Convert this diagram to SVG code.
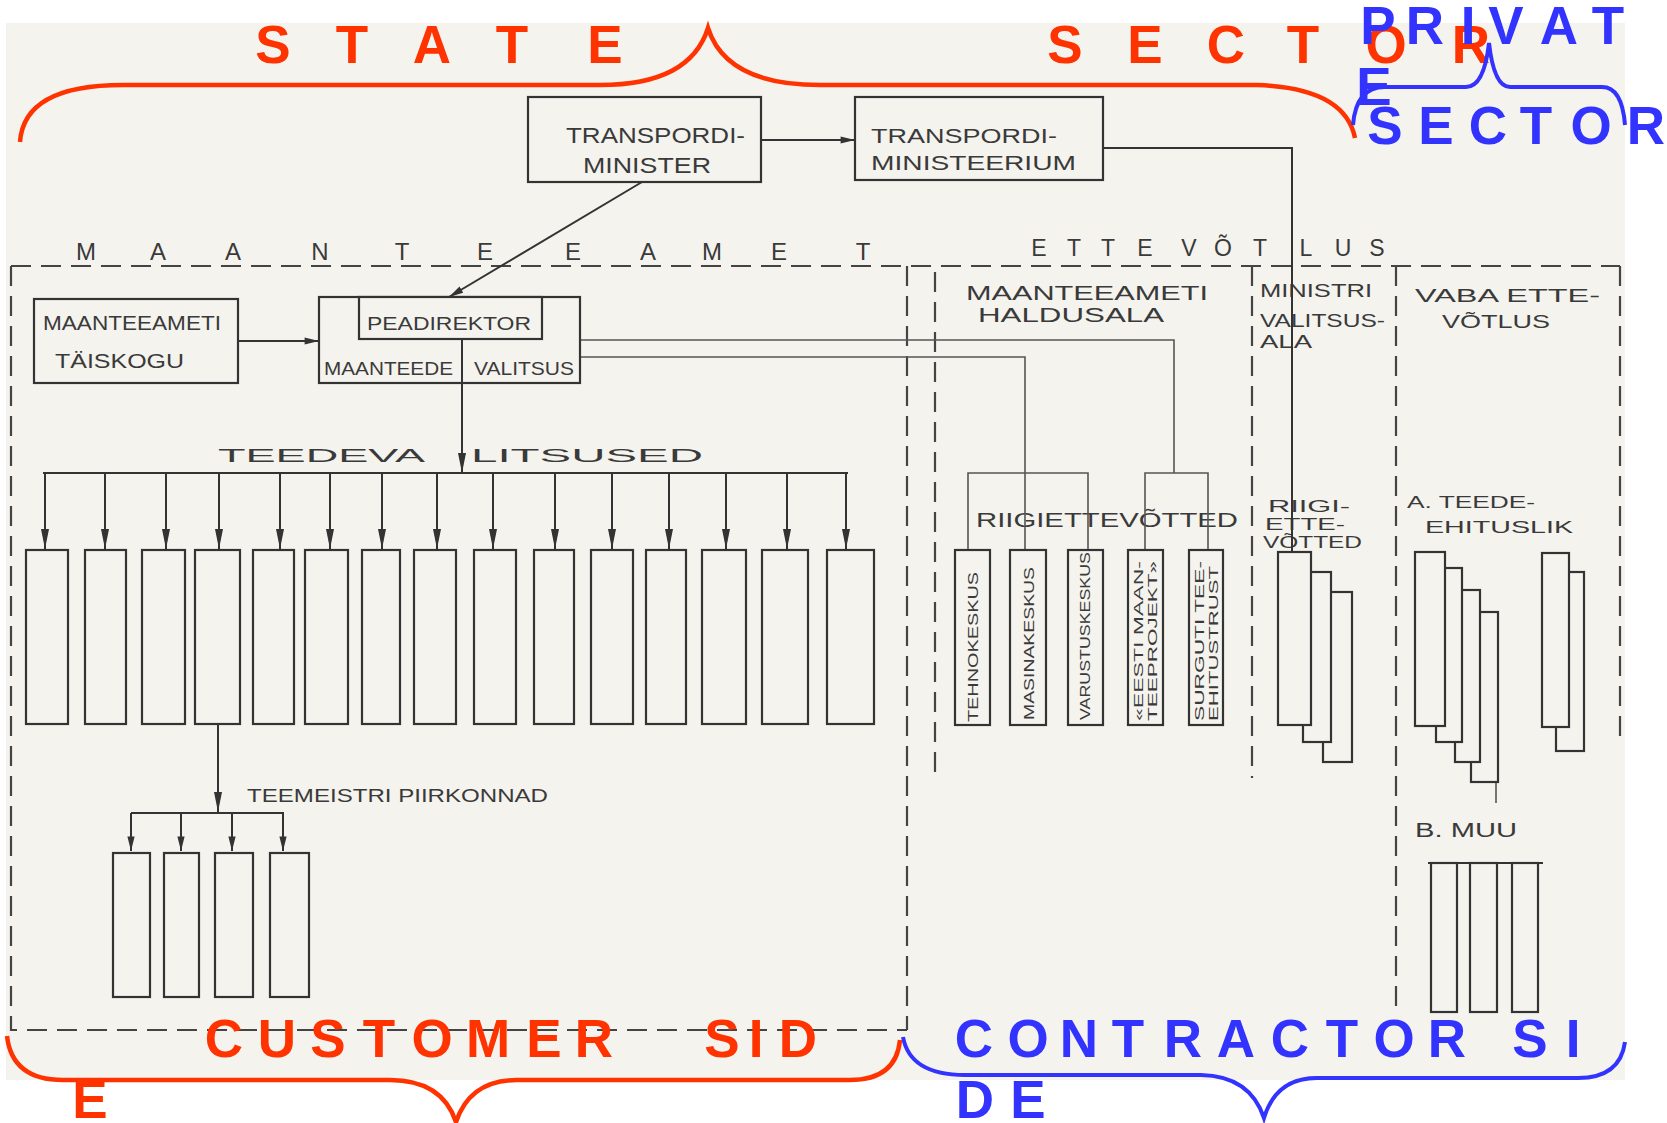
<svg xmlns="http://www.w3.org/2000/svg" width="1667" height="1123" viewBox="0 0 1667 1123">
<defs>
<style>
.paper{fill:#f5f3ee}
.box{fill:#f5f3ee;stroke:#333;stroke-width:2.2}
.ln{fill:none;stroke:#333;stroke-width:2}
.thin{fill:none;stroke:#555;stroke-width:1.6}
.dash{fill:none;stroke:#444;stroke-width:2.2;stroke-dasharray:20 10}
.hw{font-family:"Liberation Sans",Arial,sans-serif;fill:#3a3a3a}
.big{font-family:"Liberation Sans",Arial,sans-serif;font-weight:bold;font-size:53px;text-anchor:middle}
.red{fill:#ff3300}
.blue{fill:#3333ff}
.rb{fill:none;stroke:#ff3300;stroke-width:4.5}
.bb{fill:none;stroke:#3333ff;stroke-width:4}
</style>
<marker id="ah" viewBox="0 0 20 10" refX="20" refY="5" markerWidth="20" markerHeight="10" markerUnits="userSpaceOnUse" orient="auto">
<path d="M0,1 L20,5 L0,9 z" fill="#333"/>
</marker>
<marker id="ahs" viewBox="0 0 16 10" refX="16" refY="5" markerWidth="15" markerHeight="9" markerUnits="userSpaceOnUse" orient="auto">
<path d="M0,1 L16,5 L0,9 z" fill="#333"/>
</marker>
</defs>

<rect class="paper" x="6" y="23" width="1619" height="1057"/>

<!-- region boundaries -->
<g id="regions">
<path class="dash" d="M11 266 H1620"/>
<path class="dash" d="M11 266 V1030 H907"/>
<path class="dash" d="M907 266 V1030"/>
<path class="dash" d="M935 272 V772"/>
<path class="dash" d="M1252 266 V778"/>
<path class="dash" d="M1396 266 V1012"/>
<path class="dash" d="M1620 266 V745"/>
<text class="hw" font-size="24" y="260" text-anchor="middle" x="86 158 233 320 402 485 573 648 712 779 863">MAANTEEAMET</text>
<text class="hw" font-size="23" y="256" text-anchor="middle" x="1039 1074 1108 1145 1189 1223 1260 1306 1343 1377">ETTEVÕTLUS</text>
<text class="hw" font-size="20" x="966" y="300" textLength="242" lengthAdjust="spacingAndGlyphs">MAANTEEAMETI</text>
<text class="hw" font-size="20" x="978" y="322" textLength="186" lengthAdjust="spacingAndGlyphs">HALDUSALA</text>
<text class="hw" font-size="18" x="1260" y="297" textLength="112" lengthAdjust="spacingAndGlyphs">MINISTRI</text>
<text class="hw" font-size="18" x="1260" y="327" textLength="125" lengthAdjust="spacingAndGlyphs">VALITSUS-</text>
<text class="hw" font-size="18" x="1260" y="348" textLength="52" lengthAdjust="spacingAndGlyphs">ALA</text>
<text class="hw" font-size="19" x="1415" y="302" textLength="185" lengthAdjust="spacingAndGlyphs">VABA ETTE-</text>
<text class="hw" font-size="19" x="1442" y="328" textLength="108" lengthAdjust="spacingAndGlyphs">VÕTLUS</text>
<text class="hw" font-size="20" x="976" y="527" textLength="262" lengthAdjust="spacingAndGlyphs">RIIGIETTEVÕTTED</text>
<text class="hw" font-size="16" x="1268" y="512" textLength="82" lengthAdjust="spacingAndGlyphs">RIIGI-</text>
<text class="hw" font-size="16" x="1265" y="530" textLength="80" lengthAdjust="spacingAndGlyphs">ETTE-</text>
<text class="hw" font-size="16" x="1263" y="548" textLength="99" lengthAdjust="spacingAndGlyphs">VÕTTED</text>
<text class="hw" font-size="16" x="1407" y="508" textLength="128" lengthAdjust="spacingAndGlyphs">A. TEEDE-</text>
<text class="hw" font-size="17" x="1425" y="533" textLength="148" lengthAdjust="spacingAndGlyphs">EHITUSLIK</text>
<text class="hw" font-size="20" x="1415" y="837" textLength="102" lengthAdjust="spacingAndGlyphs">B. MUU</text>
<text class="hw" font-size="19" x="218" y="462" textLength="207" lengthAdjust="spacingAndGlyphs">TEEDEVA</text>
<text class="hw" font-size="19" x="471" y="462" textLength="232" lengthAdjust="spacingAndGlyphs">LITSUSED</text>
<text class="hw" font-size="19" x="247" y="802" textLength="301" lengthAdjust="spacingAndGlyphs">TEEMEISTRI PIIRKONNAD</text>
</g>

<!-- connectors -->
<g id="connectors">
<path class="ln" d="M761 140 H855" marker-end="url(#ahs)"/>
<path class="ln" d="M642 182 L449 297" marker-end="url(#ahs)"/>
<path class="ln" d="M238 341 H319" marker-end="url(#ahs)"/>
<path class="ln" d="M1103 148 H1292 V552"/>
<path class="thin" d="M580 340 H1174 V473"/>
<path class="thin" d="M580 357 H1025 V550"/>
<path class="thin" d="M968 550 V473 H1088 V550"/>
<path class="thin" d="M1145 550 V473 H1208 V550"/>
<path class="ln" d="M462 339 V473" marker-end="url(#ah)"/>
<path class="ln" d="M43 473 H848"/>
<path class="ln" d="M45 473 V549" marker-end="url(#ah)"/>
<path class="ln" d="M105 473 V549" marker-end="url(#ah)"/>
<path class="ln" d="M166 473 V549" marker-end="url(#ah)"/>
<path class="ln" d="M219 473 V549" marker-end="url(#ah)"/>
<path class="ln" d="M280 473 V549" marker-end="url(#ah)"/>
<path class="ln" d="M330 473 V549" marker-end="url(#ah)"/>
<path class="ln" d="M382 473 V549" marker-end="url(#ah)"/>
<path class="ln" d="M437 473 V549" marker-end="url(#ah)"/>
<path class="ln" d="M493 473 V549" marker-end="url(#ah)"/>
<path class="ln" d="M555 473 V549" marker-end="url(#ah)"/>
<path class="ln" d="M612 473 V549" marker-end="url(#ah)"/>
<path class="ln" d="M669 473 V549" marker-end="url(#ah)"/>
<path class="ln" d="M726 473 V549" marker-end="url(#ah)"/>
<path class="ln" d="M787 473 V549" marker-end="url(#ah)"/>
<path class="ln" d="M846 473 V549" marker-end="url(#ah)"/>
<path class="ln" d="M218 724 V812" marker-end="url(#ah)"/>
<path class="ln" d="M131 813 H284"/>
<path class="ln" d="M131 813 V851" marker-end="url(#ahs)"/>
<path class="ln" d="M181 813 V851" marker-end="url(#ahs)"/>
<path class="ln" d="M232 813 V851" marker-end="url(#ahs)"/>
<path class="ln" d="M283 813 V851" marker-end="url(#ahs)"/>
<path class="ln" d="M1428 863 H1543"/>
</g>

<!-- top nodes -->
<g id="transpordiminister">
<rect class="box" x="528" y="97" width="233" height="85"/>
<text class="hw" font-size="22" x="566" y="143" textLength="179" lengthAdjust="spacingAndGlyphs">TRANSPORDI-</text>
<text class="hw" font-size="22" x="583" y="173" textLength="128" lengthAdjust="spacingAndGlyphs">MINISTER</text>
</g>
<g id="transpordiministeerium">
<rect class="box" x="855" y="97" width="248" height="83"/>
<text class="hw" font-size="21" x="871" y="143" textLength="186" lengthAdjust="spacingAndGlyphs">TRANSPORDI-</text>
<text class="hw" font-size="21" x="871" y="170" textLength="205" lengthAdjust="spacingAndGlyphs">MINISTEERIUM</text>
</g>
<g id="taiskogu">
<rect class="box" x="34" y="299" width="204" height="84"/>
<text class="hw" font-size="21" x="43" y="330" textLength="178" lengthAdjust="spacingAndGlyphs">MAANTEEAMETI</text>
<text class="hw" font-size="21" x="55" y="368" textLength="129" lengthAdjust="spacingAndGlyphs">TÄISKOGU</text>
</g>
<g id="maanteede-valitsus">
<rect class="box" x="319" y="297" width="261" height="86"/>
<rect class="box" x="359" y="297" width="183" height="42"/>
<path class="ln" d="M462 339 V383"/>
<text class="hw" font-size="19" x="367" y="330" textLength="164" lengthAdjust="spacingAndGlyphs">PEADIREKTOR</text>
<text class="hw" font-size="19" x="324" y="375" textLength="129" lengthAdjust="spacingAndGlyphs">MAANTEEDE</text>
<text class="hw" font-size="19" x="474" y="375" textLength="100" lengthAdjust="spacingAndGlyphs">VALITSUS</text>
</g>

<!-- teedevalitsused -->
<g id="teedevalitsused">
<rect class="box" x="26" y="550" width="42" height="174"/>
<rect class="box" x="85" y="550" width="41" height="174"/>
<rect class="box" x="142" y="550" width="43" height="174"/>
<rect class="box" x="195" y="550" width="45" height="174"/>
<rect class="box" x="253" y="550" width="41" height="174"/>
<rect class="box" x="305" y="550" width="43" height="174"/>
<rect class="box" x="362" y="550" width="38" height="174"/>
<rect class="box" x="414" y="550" width="42" height="174"/>
<rect class="box" x="474" y="550" width="42" height="174"/>
<rect class="box" x="534" y="550" width="40" height="174"/>
<rect class="box" x="591" y="550" width="42" height="174"/>
<rect class="box" x="646" y="550" width="40" height="174"/>
<rect class="box" x="702" y="550" width="44" height="174"/>
<rect class="box" x="762" y="550" width="46" height="174"/>
<rect class="box" x="827" y="550" width="47" height="174"/>
</g>
<g id="teemeistri-piirkonnad">
<rect class="box" x="113" y="853" width="37" height="144"/>
<rect class="box" x="164" y="853" width="35" height="144"/>
<rect class="box" x="215" y="853" width="38" height="144"/>
<rect class="box" x="270" y="853" width="39" height="144"/>
</g>

<!-- riigiettevotted of maanteeamet -->
<g id="tehnokeskus">
<rect class="box" x="955" y="550" width="35" height="175"/>
<text class="hw" font-size="15" transform="translate(978,722) rotate(-90)" textLength="150" lengthAdjust="spacingAndGlyphs">TEHNOKESKUS</text>
</g>
<g id="masinakeskus">
<rect class="box" x="1010" y="550" width="36" height="175"/>
<text class="hw" font-size="15" transform="translate(1034,720) rotate(-90)" textLength="153" lengthAdjust="spacingAndGlyphs">MASINAKESKUS</text>
</g>
<g id="varustuskeskus">
<rect class="box" x="1068" y="550" width="35" height="175"/>
<text class="hw" font-size="15" transform="translate(1090,720) rotate(-90)" textLength="168" lengthAdjust="spacingAndGlyphs">VARUSTUSKESKUS</text>
</g>
<g id="maanteeprojekt">
<rect class="box" x="1128" y="550" width="35" height="175"/>
<text class="hw" font-size="13" transform="translate(1143,721) rotate(-90)" textLength="160" lengthAdjust="spacingAndGlyphs">«EESTI MAAN-</text>
<text class="hw" font-size="13" transform="translate(1157,721) rotate(-90)" textLength="160" lengthAdjust="spacingAndGlyphs">TEEPROJEKT»</text>
</g>
<g id="teeehitustrust">
<rect class="box" x="1189" y="550" width="34" height="175"/>
<text class="hw" font-size="13" transform="translate(1204,721) rotate(-90)" textLength="160" lengthAdjust="spacingAndGlyphs">SURGUTI TEE-</text>
<text class="hw" font-size="13" transform="translate(1218,721) rotate(-90)" textLength="155" lengthAdjust="spacingAndGlyphs">EHITUSTRUST</text>
</g>

<!-- ministri valitsusala stacked -->
<g id="ministri-ettevotted">
<rect class="box" x="1323" y="592" width="29" height="170"/>
<rect class="box" x="1303" y="572" width="28" height="170"/>
<rect class="box" x="1278" y="552" width="33" height="173"/>
</g>

<!-- vaba ettevotlus -->
<g id="teedeehituslik-1">
<path class="thin" d="M1496 782 V803"/>
<rect class="box" x="1471" y="612" width="27" height="170"/>
<rect class="box" x="1455" y="590" width="25" height="172"/>
<rect class="box" x="1436" y="568" width="26" height="174"/>
<rect class="box" x="1415" y="552" width="30" height="174"/>
</g>
<g id="teedeehituslik-2">
<rect class="box" x="1556" y="572" width="28" height="179"/>
<rect class="box" x="1542" y="553" width="27" height="174"/>
</g>
<g id="muu">
<rect class="box" x="1431" y="863" width="26" height="149"/>
<rect class="box" x="1470" y="863" width="27" height="149"/>
<rect class="box" x="1512" y="863" width="26" height="149"/>
</g>

<!-- coloured overlay braces and titles -->
<g id="state-sector">
<path class="rb" d="M20 142 Q24 85 123 85 L600 85 Q690 85 708 28 Q726 85 820 85 L1257 85 Q1345 88 1355 138"/>
<text class="big red" y="63" x="273 352 432 512 605">STATE</text>
<text class="big red" y="63" x="1065 1145 1226 1303 1386 1471">SECTOR</text>
</g>
<g id="private-sector">
<path class="bb" d="M1353 125 Q1356 87 1385 87 L1466 87 Q1484 87 1489 43 Q1494 87 1510 87 L1602 87 Q1622 87 1625 125"/>
<text class="big blue" y="44" x="1378 1425 1468 1506 1559 1608">PRIVAT</text>
<text class="big blue" y="105" x="1374">E</text>
<text class="big blue" y="144" x="1385 1436 1488 1536 1591 1646">SECTOR</text>
</g>
<g id="customer-side">
<path class="rb" d="M7 1036 Q12 1080 63 1080 L390 1080 Q442 1080 456 1122 Q470 1080 517 1080 L850 1080 Q896 1080 900 1040"/>
<text class="big red" y="1057" x="224 277 328 379 432 488 544 594 722 756 798">CUSTOMERSID</text>
<text class="big red" y="1118" x="90">E</text>
</g>
<g id="contractor-side">
<path class="bb" d="M903 1037 Q910 1075 965 1075 L1201 1075 Q1250 1076 1264 1118 Q1276 1078 1317 1078 L1578 1078 Q1620 1078 1625 1042"/>
<text class="big blue" y="1057" x="974 1028 1079 1128 1183 1236 1290 1342 1394 1447 1530 1573">CONTRACTORSI</text>
<text class="big blue" y="1118" x="975 1028">DE</text>
</g>
</svg>
